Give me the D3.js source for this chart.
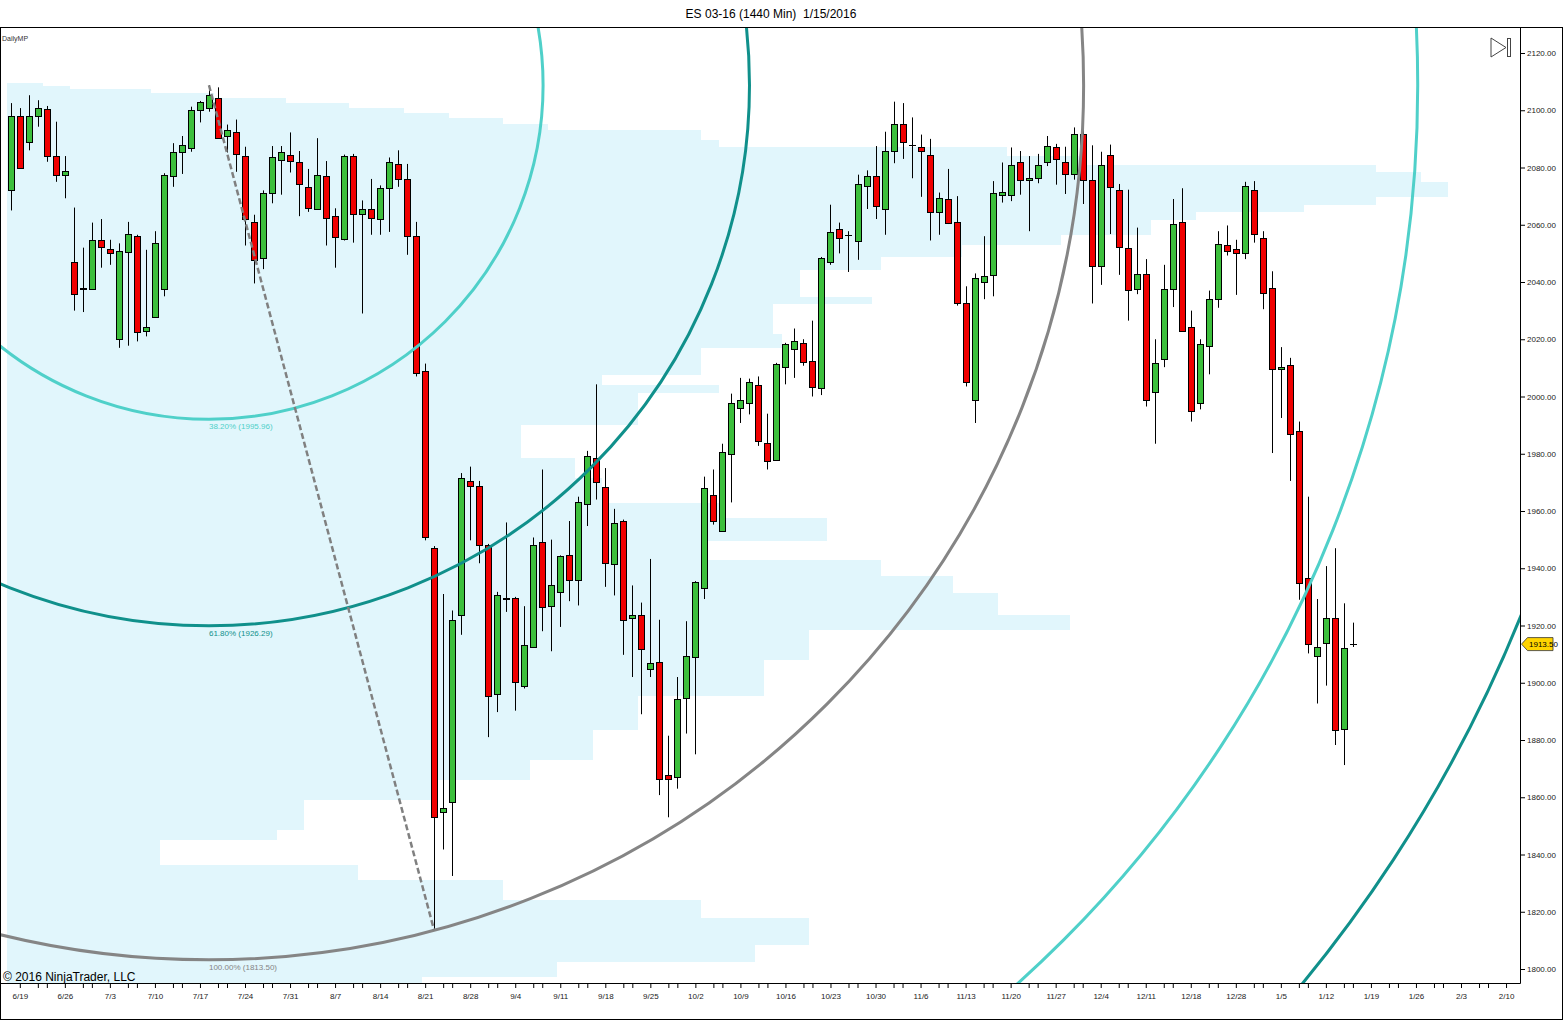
<!DOCTYPE html>
<html>
<head>
<meta charset="utf-8">
<script src="https://cdn.jsdelivr.net/npm/d3@7"></script>
<style>
  body { margin: 0; background: #fff; }
  svg { display: block; font-family: Arial, 'Liberation Sans', sans-serif; }
</style>
</head>
<body>
<div id="chart"></div>
<script>
// daily bars, ES 03-16, index 0 = 6/18
const barOpen = [
  2072, 2098, 2088.75, 2098, 2100.5, 2084, 2077.5, 2047, 2037.75, 2037.5,
  2054.5, 2051.5, 2020.25, 2050.5, 2056, 2022.75, 2027.75, 2037.75, 2077, 2085.5,
  2087, 2100, 2101, 2104.25, 2091, 2092.25, 2084, 2061, 2048.5, 2071,
  2082.5, 2084.5, 2081.75, 2073.25, 2065.5, 2077, 2063, 2055, 2084, 2063.75,
  2065.5, 2062.25, 2072.5, 2081.25, 2076, 2056, 2008.75, 1947, 1855, 1858.25,
  1923.5, 1970.5, 1968.75, 1948, 1896, 1929.75, 1929.75, 1899, 1912.5, 1949.25,
  1926.75, 1931.75, 1944.75, 1935.75, 1962.5, 1978.5, 1968.5, 1941.5, 1956.5, 1922.5,
  1923.5, 1905, 1907.25, 1867.75, 1867, 1894.5, 1909, 1933, 1965.5, 1953,
  1980, 1996, 1997.5, 2004, 1983.75, 1977.75, 2010.5, 2016.75, 2018.75, 2012.25,
  2002.75, 2047, 2058.5, 2056.5, 2054.5, 2073.5, 2077, 2065.5, 2085.75, 2095.25,
  2088, 2087.25, 2084.5, 2064.75, 2069, 2061, 2032.75, 1998.75, 2040.25, 2042.25,
  2070.5, 2070.5, 2082, 2075.75, 2076.25, 2082, 2087, 2081.75, 2077.75, 2091.75,
  2075.5, 2045.5, 2084.5, 2072.25, 2052, 2037.5, 2042.75, 2001.5, 2013, 2037.5,
  2061, 2024.25, 1997.5, 2017.5, 2034, 2053, 2051.5, 2050.25, 2072, 2055.25,
  2038, 2009.5, 2011, 1988, 1936.5, 1909.5, 1913.75, 1922.5, 1884, 1913.5
];
const barHigh = [
  2102.5, 2100.75, 2105.25, 2103.5, 2101.5, 2096, 2084, 2066, 2052, 2060.75,
  2062, 2054.75, 2053.5, 2061, 2056.5, 2051.25, 2057.75, 2078, 2088.5, 2091,
  2101.25, 2103.25, 2108.75, 2108, 2095, 2096.75, 2087.25, 2063.5, 2072, 2087.5,
  2087.5, 2092.25, 2085.75, 2079.5, 2090.25, 2082.25, 2065.75, 2084.5, 2084.75, 2068.5,
  2076, 2073.75, 2083.5, 2086, 2081.25, 2061, 2011.5, 1947.75, 1931, 1925.25,
  1973.25, 1975.5, 1970.5, 1948.5, 1931.75, 1956, 1930, 1926.75, 1950.75, 1974.5,
  1950, 1944.5, 1956.5, 1965, 1981, 2004.25, 1975, 1960.75, 1957, 1934,
  1928, 1943.25, 1922, 1881.5, 1902, 1921.5, 1935.5, 1972, 1974.5, 1983.5,
  2001, 2006.5, 2006.25, 2007, 1994, 2011.75, 2018.75, 2023.75, 2020, 2026.5,
  2048.75, 2067, 2060.75, 2057.75, 2077.5, 2079, 2087.5, 2092.5, 2103, 2102.5,
  2097.5, 2091.5, 2090, 2071.25, 2079.5, 2070, 2038.5, 2043, 2056, 2075.25,
  2081.75, 2087, 2085.75, 2084, 2084.75, 2091, 2088.25, 2087.25, 2094, 2097.25,
  2087.75, 2085.5, 2088, 2074.25, 2072.25, 2059, 2048, 2020, 2046, 2069,
  2072.75, 2030, 2020, 2037, 2057.75, 2059.75, 2054.75, 2075, 2075.25, 2057.75,
  2043.75, 2017.25, 2013.5, 1991.25, 1965, 1929.25, 1940.75, 1947, 1927.75, 1921
];
const barLow = [
  2065, 2079.5, 2086, 2094.25, 2082, 2075, 2069.25, 2030, 2029.5, 2037.25,
  2045, 2046, 2017, 2017.75, 2019.25, 2021, 2027.5, 2035, 2073.25, 2077.75,
  2085.5, 2095.75, 2099.5, 2090, 2085.25, 2078.5, 2052.75, 2039.5, 2044.5, 2067.5,
  2070.5, 2078.25, 2063, 2064.5, 2065.25, 2052.75, 2045, 2054.5, 2053.75, 2029,
  2056.5, 2056.5, 2057.5, 2073.25, 2049.5, 2007, 1949.75, 1813.5, 1841.75, 1832.5,
  1916.75, 1949.75, 1941.75, 1881, 1889.75, 1924.75, 1890.25, 1898, 1912.25, 1918,
  1911, 1919.5, 1928.5, 1927, 1954.75, 1964, 1933.5, 1930.5, 1909.75, 1902,
  1889, 1902, 1860.75, 1853, 1863, 1882.25, 1875, 1929.25, 1955.25, 1952.75,
  1963, 1990.75, 1993.75, 1982.75, 1974.5, 1977.5, 2004.25, 2006.5, 2010.75, 2000,
  2000.5, 2046, 2050, 2043.5, 2047.75, 2065.5, 2062, 2056.5, 2081.5, 2083,
  2076.25, 2069.75, 2054.5, 2056.5, 2060.25, 2031.75, 2003.5, 1990.75, 2034, 2035,
  2067.75, 2068.25, 2070.5, 2057.75, 2074.5, 2080.5, 2074, 2070.75, 2075.75, 2067.25,
  2032.5, 2039, 2056.75, 2042.5, 2026.5, 2035.75, 1996.5, 1983.5, 2010.25, 2031.25,
  2022.75, 1991.25, 1995.5, 2007.75, 2031, 2049.25, 2035.5, 2048, 2053.75, 2030.5,
  1980.25, 1992.5, 1970.5, 1929, 1910.25, 1892.75, 1899, 1878.25, 1871.25, 1912.5
];
const barClose = [
  2098, 2080, 2098, 2100.75, 2084, 2077.5, 2078.75, 2035.75, 2037.5, 2054.5,
  2052, 2050, 2051, 2056.75, 2022.5, 2024.25, 2053.5, 2077.5, 2085.5, 2088,
  2100.25, 2102.75, 2105.5, 2090.25, 2093, 2084.5, 2062, 2047.75, 2071.25, 2083.75,
  2085.25, 2082.25, 2074, 2065.75, 2077.5, 2062.5, 2055.5, 2084, 2063.75, 2065.5,
  2062.5, 2073, 2081.75, 2076, 2056, 2008, 1950.75, 1853, 1856.25, 1922,
  1971.5, 1968.75, 1948, 1895.25, 1930.5, 1929.25, 1900.5, 1913.25, 1948.25, 1926.5,
  1934, 1944.25, 1936, 1963, 1979.25, 1970, 1942, 1955.75, 1922, 1923.5,
  1911.75, 1907, 1866.5, 1866.25, 1894.25, 1909.25, 1935.25, 1968, 1956.5, 1980.75,
  1997.75, 1998.75, 2005, 1984.5, 1977.5, 2011.25, 2018.5, 2019.5, 2012.25, 2003.25,
  2048.25, 2057.5, 2055.25, 2056.5, 2074.25, 2077, 2066.5, 2085.75, 2095.25, 2089,
  2088, 2086, 2064.75, 2069.5, 2060.75, 2032.75, 2005.25, 2041.25, 2042.25, 2071,
  2071.5, 2081, 2075.75, 2076.5, 2080.75, 2087.5, 2082.75, 2077.5, 2091.75, 2075.75,
  2045.5, 2080.75, 2073.25, 2052.25, 2037.5, 2042.75, 1998.75, 2011.75, 2037.5, 2060.25,
  2023, 1995, 2018.25, 2034, 2053.25, 2051, 2050.25, 2073.5, 2056.5, 2036,
  2009.75, 2010.25, 1987, 1934.75, 1913.5, 1912.5, 1922.5, 1883.5, 1912.25, 1913.5
];

// weekly date labels, first one on bar 1, then every 5 bars
const dateLabels = [
  '6/19', '6/26', '7/3', '7/10', '7/17', '7/24', '7/31', '8/7', '8/14', '8/21',
  '8/28', '9/4', '9/11', '9/18', '9/25', '10/2', '10/9', '10/16', '10/23', '10/30',
  '11/6', '11/13', '11/20', '11/27', '12/4', '12/11', '12/18', '12/28', '1/5', '1/12',
  '1/19', '1/26', '2/3', '2/10'
];
const priceTicks = [1800, 1820, 1840, 1860, 1880, 1900, 1920, 1940, 1960, 1980,
  2000, 2020, 2040, 2060, 2080, 2100, 2120];

// DailyMP composite profile: upper price of each row band and its TPO count
const profileTop = [
  2109.5, 2108.5, 2107.5, 2106, 2104.25, 2102.5, 2100.75, 2099, 2097.25, 2095.25,
  2093, 2089.5, 2087.25, 2084, 2081, 2078.5, 2075, 2069.75, 2067, 2064.5,
  2061.75, 2056.5, 2053, 2048.75, 2044.25, 2034.75, 2032.25, 2022, 2017, 2007.5,
  2004, 2001.5, 1990, 1978.5, 1971.5, 1962.75, 1957.5, 1949.5, 1943, 1937.25,
  1931.5, 1923.75, 1918.5, 1908, 1895.5, 1883.5, 1873, 1866, 1859, 1848.5,
  1845, 1836.25, 1831, 1824, 1817.75, 1808.5, 1802.5, 1797.25
];
const profileTpo = [
  4, 7, 16, 23, 31, 38, 44, 49, 55, 60,
  77, 79, 111, 119, 152, 157, 160, 152, 144, 132,
  127, 117, 106, 97, 88, 96, 85, 86, 77, 66,
  79, 70, 57, 63, 66, 79, 91, 77, 97, 105,
  110, 118, 89, 84, 70, 65, 58, 47, 33, 30,
  17, 39, 55, 77, 89, 83, 61, 46
];
const profileFloor = 1790;

// fibonacci circles drawn from the 7/20 high to the 8/24 low
const swingHigh = { bar: 22, price: 2108.75 };
const swingLow = { bar: 47, price: 1813.5 };
const fibRatios = [0.382, 0.618, 1, 1.382, 1.618];
const fibColors = ['#4fd0c9', '#10908b', '#858585', '#4fd0c9', '#10908b'];
const lastPrice = 1913.5;

const width = 1563,
  height = 1021;
const plot = { left: 0, top: 27, right: 1520, bottom: 983 };

const svg = d3
  .select('#chart')
  .append('svg')
  .attr('width', width)
  .attr('height', height);

const x = d3.scaleLinear().domain([-1.2, 167.55]).range([plot.left, plot.right]);
const y = d3.scaleLinear().domain([1800, 2120]).range([969, 53]);

svg
  .append('defs')
  .append('clipPath')
  .attr('id', 'plot-clip')
  .append('rect')
  .attr('x', plot.left + 1)
  .attr('y', plot.top + 1)
  .attr('width', plot.right - plot.left - 1)
  .attr('height', plot.bottom - plot.top - 1);

const g = svg.append('g').attr('clip-path', 'url(#plot-clip)');

// market profile
const profLeft = x(-0.4);
g.append('g')
  .selectAll('rect')
  .data(profileTop)
  .join('rect')
  .attr('x', profLeft)
  .attr('y', (d) => y(d))
  .attr('width', (d, i) => x(-0.4 + profileTpo[i]) - profLeft)
  .attr('height', (d, i) => y(i < profileTop.length - 1 ? profileTop[i + 1] : profileFloor) - y(d) + 0.3)
  .attr('fill', '#e1f6fc')
  .attr('shape-rendering', 'crispEdges');

g.append('text')
  .attr('x', 2)
  .attr('y', 41)
  .attr('font-size', 7)
  .attr('fill', '#333')
  .text('DailyMP');

// candles
const bars = d3.range(barOpen.length).map((i) => ({
  i,
  o: barOpen[i],
  h: barHigh[i],
  l: barLow[i],
  c: barClose[i],
}));

const candle = g
  .append('g')
  .selectAll('g')
  .data(bars)
  .join('g')
  .attr('transform', (d) => `translate(${Math.round(x(d.i))},0)`);

candle
  .append('line')
  .attr('x1', 0.5)
  .attr('x2', 0.5)
  .attr('y1', (d) => y(d.h))
  .attr('y2', (d) => y(d.l))
  .attr('stroke', '#000')
  .attr('stroke-width', 1);

candle
  .filter((d) => d.o !== d.c)
  .append('rect')
  .attr('x', -2.5)
  .attr('width', 6)
  .attr('y', (d) => Math.round(y(Math.max(d.o, d.c))) + 0.5)
  .attr('height', (d) => Math.max(1, Math.round(Math.abs(y(d.o) - y(d.c)))))
  .attr('fill', (d) => (d.c > d.o ? '#3cbf3c' : '#f00000'))
  .attr('stroke', '#000')
  .attr('stroke-width', 1);

candle
  .filter((d) => d.o === d.c)
  .append('line')
  .attr('x1', -3)
  .attr('x2', 4)
  .attr('y1', (d) => Math.round(y(d.c)) + 0.5)
  .attr('y2', (d) => Math.round(y(d.c)) + 0.5)
  .attr('stroke', '#000')
  .attr('stroke-width', 1);

// fibonacci circles
const cx = x(swingHigh.bar),
  cy = y(swingHigh.price);
const ex = x(swingLow.bar),
  ey = y(swingLow.price);
const baseR = Math.hypot(ex - cx, ey - cy);
const range = swingHigh.price - swingLow.price;

g.append('g')
  .selectAll('circle')
  .data(fibRatios)
  .join('circle')
  .attr('cx', cx)
  .attr('cy', cy)
  .attr('r', (d) => d * baseR)
  .attr('fill', 'none')
  .attr('stroke', (d, i) => fibColors[i])
  .attr('stroke-width', 3);

// only the levels whose label falls inside the panel get one
const fibLabels = fibRatios
  .map((d, i) => ({ d, color: fibColors[i], ly: cy + d * baseR + 10 }))
  .filter((f) => f.ly < plot.bottom);

g.append('g')
  .selectAll('text')
  .data(fibLabels)
  .join('text')
  .attr('x', cx)
  .attr('y', (f) => f.ly)
  .attr('font-size', 8)
  .attr('fill', (f) => f.color)
  .text((f) => `${(f.d * 100).toFixed(2)}% (${(swingHigh.price - f.d * range).toFixed(2)})`);

g.append('line')
  .attr('x1', cx)
  .attr('y1', cy)
  .attr('x2', ex)
  .attr('y2', ey)
  .attr('stroke', '#808080')
  .attr('stroke-width', 2.5)
  .attr('stroke-dasharray', '6,3');

g.append('text')
  .attr('x', 3)
  .attr('y', 981)
  .attr('font-size', 12)
  .attr('fill', '#000')
  .text('\u00a9 2016 NinjaTrader, LLC');

// price axis
const yAxis = svg
  .append('g')
  .attr('transform', `translate(${plot.right},0)`)
  .call(
    d3
      .axisRight(y)
      .tickValues(priceTicks)
      .tickFormat(d3.format('.2f'))
      .tickSize(5)
      .tickPadding(2)
  );
yAxis.select('.domain').remove();
yAxis.selectAll('text').attr('font-size', 8).attr('fill', '#222');

// time axis
const labelBars = dateLabels.map((d, k) => 1 + 5 * k);
const minorBars = labelBars.flatMap((b) => [b + 2, b + 3]).filter((b) => x(b) < plot.right);

const xAxis = svg
  .append('g')
  .attr('transform', `translate(0,${plot.bottom})`)
  .call(
    d3
      .axisBottom(x)
      .tickValues(labelBars)
      .tickFormat((d, k) => dateLabels[k])
      .tickSize(5)
      .tickPadding(5)
  );
xAxis.select('.domain').remove();
xAxis.selectAll('text').attr('font-size', 8).attr('fill', '#222');

svg
  .append('g')
  .attr('transform', `translate(0,${plot.bottom})`)
  .call(d3.axisBottom(x).tickValues(minorBars).tickFormat('').tickSize(5))
  .select('.domain')
  .remove();

svg.selectAll('.tick line').attr('stroke', '#000');

svg
  .append('line')
  .attr('x1', 0)
  .attr('x2', plot.right + 0.5)
  .attr('y1', plot.bottom + 0.5)
  .attr('y2', plot.bottom + 0.5)
  .attr('stroke', '#000');

svg
  .append('line')
  .attr('x1', plot.right + 0.5)
  .attr('x2', plot.right + 0.5)
  .attr('y1', plot.top)
  .attr('y2', plot.bottom + 0.5)
  .attr('stroke', '#000');

// last price marker
const ly = y(lastPrice);
svg
  .append('polygon')
  .attr(
    'points',
    [
      [plot.right + 1.5, ly],
      [plot.right + 7.5, ly - 6.5],
      [plot.right + 33, ly - 6.5],
      [plot.right + 33, ly + 6.5],
      [plot.right + 7.5, ly + 6.5],
    ].join(' ')
  )
  .attr('fill', '#ffd400')
  .attr('stroke', '#333')
  .attr('stroke-width', 0.8);

svg
  .append('text')
  .attr('x', plot.right + 9)
  .attr('y', ly + 3)
  .attr('font-size', 8)
  .attr('fill', '#000')
  .text(d3.format('.2f')(lastPrice));

// scroll-to-end button
svg
  .append('polygon')
  .attr('points', '1491,38 1506,47.5 1491,57')
  .attr('fill', 'none')
  .attr('stroke', '#444')
  .attr('stroke-width', 1);
svg
  .append('rect')
  .attr('x', 1507.5)
  .attr('y', 38.5)
  .attr('width', 3)
  .attr('height', 18)
  .attr('fill', 'none')
  .attr('stroke', '#444')
  .attr('stroke-width', 1);

// frame and title
svg
  .append('rect')
  .attr('x', 0.5)
  .attr('y', plot.top + 0.5)
  .attr('width', width - 1)
  .attr('height', 1019 - plot.top)
  .attr('fill', 'none')
  .attr('stroke', '#000');

svg
  .append('text')
  .attr('x', 771)
  .attr('y', 18)
  .attr('text-anchor', 'middle')
  .attr('font-size', 12)
  .attr('fill', '#000')
  .text('ES 03-16 (1440 Min)  1/15/2016')
  .style('white-space', 'pre');
</script>
</body>
</html>
